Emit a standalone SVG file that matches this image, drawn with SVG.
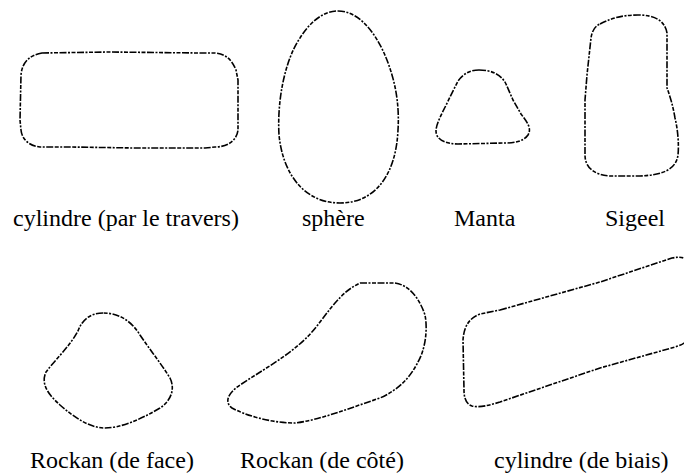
<svg xmlns="http://www.w3.org/2000/svg" width="684" height="474" viewBox="0 0 684 474">
<style>
.s{fill:none;stroke:#000;stroke-width:1.6;stroke-linejoin:round;stroke-dasharray:7 1.5 2 1.5 4 1.5}
.t{font-family:"Liberation Serif","Times New Roman",serif;font-size:24px;fill:#000}
</style>
<rect width="684" height="474" fill="#fff"/>
<g id="cylindre-travers">
<path class="s" d="M42,53 L110,52 L200,53 L215,53 C226,54 232,60 236,70 L238,80 L238,130 C237,140 228,147 215,147 L205,148 L135,148 L70,147 L40,147 C30,146 22,140 21,130 L20,120 L21,75 C22,62 30,55 42,53 Z"/>
<text class="t" x="13" y="226">cylindre (par le travers)</text>
</g>
<g id="sphere">
<path class="s" d="M338,11 C362,11 382,40 392,75 C398,95 399,115 398,130 C396,175 375,203 340,203 C305,203 283,175 279,135 C277,100 285,60 300,38 C310,22 323,11 338,11 Z"/>
<text class="t" x="302" y="226">sphère</text>
</g>
<g id="manta">
<path class="s" d="M479,70 C491,70 501,74 506,84 L513,100 L521,114 C527,122 532,128 528,135 C524,141 515,143 505,143 L458,144 C446,144 436,140 436,131 C436,123 444,110 450,97 L458,81 C463,74 470,70 479,70 Z"/>
<text class="t" x="454" y="226">Manta</text>
</g>
<g id="sigeel">
<path class="s" d="M600,24 C610,19 620,15 638,15 C655,15 665,21 667,33 L667,88 C670,96 673,106 675,118 C678,130 679,145 678,155 C676,170 662,175 640,176 L610,176 C595,175 585,168 585,155 L585,100 L587,75 L591,38 C592,31 595,26 600,24 Z"/>
<text class="t" x="605" y="226">Sigeel</text>
</g>
<g id="rockan-face">
<path class="s" d="M103,313 C90,313 82,320 78,331 C70,346 55,360 46,372 C40,385 50,396 60,405 C75,418 90,428 105,428 C120,428 140,420 160,408 C172,400 175,388 170,378 C160,362 150,350 140,335 C132,322 120,313 103,313 Z"/>
<text class="t" x="30" y="468">Rockan (de face)</text>
</g>
<g id="rockan-cote">
<path class="s" d="M360,283 L395,283 C410,285 420,300 425,315 C428,330 425,350 418,362 C410,378 398,390 380,398 C350,408 320,420 295,423 C270,423 245,415 232,408 C224,402 228,393 240,385 C270,365 300,350 320,322 C335,302 345,290 360,283 Z"/>
<text class="t" x="240" y="468">Rockan (de côté)</text>
</g>
<g id="cylindre-biais">
<path class="s" d="M500,310 L600,282 L672,258 C682,256 688,258 690,265 L690,335 C688,342 682,345 675,347 L600,368 L500,402 C490,405 480,408 472,406 C466,404 464,398 464,390 L463,340 C464,325 470,318 480,314 Z"/>
<text class="t" x="494" y="468">cylindre (de biais)</text>
</g>
</svg>
